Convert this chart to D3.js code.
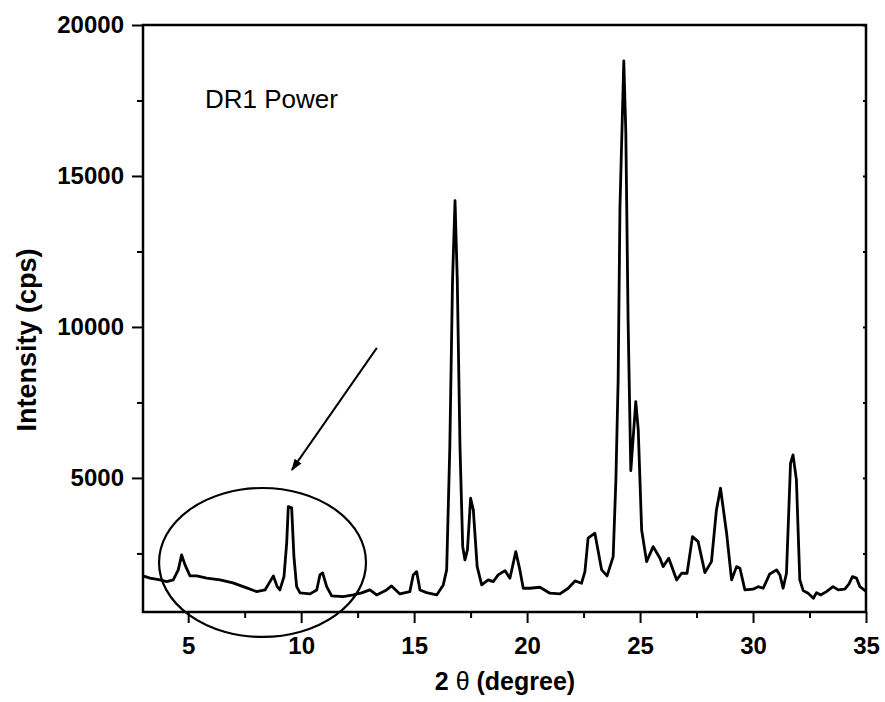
<!DOCTYPE html>
<html>
<head>
<meta charset="utf-8">
<script src="https://cdn.jsdelivr.net/npm/d3@7"></script>
<style>
  body { margin: 0; background: #fff; }
  text { font-family: "Liberation Sans", Arial, sans-serif; fill: #000; }
</style>
</head>
<body>
<div id="chart"></div>
<script>
const width = 885;
const height = 702;

// 2θ (degree) and intensity (cps)
const twoTheta = [3.00, 3.31, 3.75, 4.05, 4.34, 4.56, 4.71, 4.86, 5.08, 5.38, 5.82, 6.41, 6.98, 7.59, 8.03, 8.40, 8.62, 8.77, 8.94, 9.06,
  9.24, 9.36, 9.43, 9.58, 9.68, 9.80, 9.95, 10.39, 10.69, 10.83, 10.95, 11.13, 11.35, 11.86, 12.31, 12.68, 13.04, 13.34, 13.78, 14.00,
  14.37, 14.81, 14.96, 15.11, 15.26, 15.55, 16.00, 16.29, 16.44, 16.58, 16.70, 16.81, 16.91, 17.03, 17.15, 17.25, 17.36, 17.50, 17.62, 17.79,
  17.99, 18.28, 18.50, 18.72, 19.02, 19.24, 19.50, 19.68, 19.83, 20.12, 20.57, 21.01, 21.45, 21.82, 22.12, 22.41, 22.56, 22.70, 23.00, 23.30,
  23.54, 23.81, 23.93, 24.03, 24.11, 24.28, 24.37, 24.47, 24.59, 24.81, 24.92, 25.07, 25.29, 25.58, 25.88, 26.02, 26.27, 26.62, 26.84, 27.08,
  27.32, 27.57, 27.87, 28.16, 28.38, 28.56, 28.83, 29.05, 29.27, 29.42, 29.64, 30.00, 30.23, 30.45, 30.74, 31.04, 31.19, 31.33, 31.48, 31.66,
  31.77, 31.92, 32.07, 32.22, 32.44, 32.67, 32.81, 32.99, 33.25, 33.54, 33.77, 34.06, 34.25, 34.40, 34.58, 34.73, 34.96, 35.00];
const intensity = [1755, 1680, 1622, 1566, 1622, 1954, 2450, 2119, 1755, 1755, 1680, 1622, 1523, 1358, 1235, 1291, 1566, 1755, 1400, 1291,
  1732, 2847, 4050, 4007, 2394, 1400, 1192, 1159, 1291, 1788, 1854, 1400, 1093, 1070, 1126, 1192, 1291, 1126, 1291, 1424,
  1159, 1235, 1788, 1897, 1291, 1202, 1126, 1457, 1954, 6036, 11556, 14182, 11556, 6036, 2725, 2285, 2616, 4328, 3940, 2063,
  1457, 1622, 1566, 1788, 1930, 1680, 2560, 1954, 1347, 1347, 1380, 1182, 1159, 1347, 1589, 1513, 1897, 3003, 3169, 1954,
  1755, 2394, 4934, 8245, 13957, 18808, 16440, 10232, 5242, 7527, 6589, 3278, 2229, 2725, 2341, 2063, 2341, 1622, 1844, 1844,
  3056, 2891, 1864, 2229, 3940, 4659, 3169, 1622, 2063, 2010, 1291, 1315, 1400, 1347, 1821, 1954, 1788, 1347, 1844, 5487,
  5762, 4934, 1622, 1268, 1182, 1017, 1202, 1126, 1235, 1400, 1291, 1315, 1490, 1732, 1680, 1400, 1268, 1240];

const xTicks = [5, 10, 15, 20, 25, 30, 35];
const xMinor = [7.5, 12.5, 17.5, 22.5, 27.5, 32.5];
const yTicks = [5000, 10000, 15000, 20000];
const yMinor = [2500, 7500, 12500, 17500];

// annotation in data units: circled region and arrow
const ellipseCenter = [8.29, 2200];
const ellipseRadius = [4.58, 2467];
const arrowFrom = [13.35, 9305];
const arrowTo = [9.59, 5265];

const margin = { top: 25, right: 19, bottom: 90, left: 143 };

const svg = d3.select("#chart")
  .append("svg")
  .attr("width", width)
  .attr("height", height);

const x = d3.scaleLinear()
  .domain([3, 35])
  .range([margin.left, width - margin.right]);

const y = d3.scaleLinear()
  .domain([560, 20000])
  .range([height - margin.bottom, margin.top]);

const data = twoTheta.map((t, i) => ({ t: t, v: intensity[i] }));

// axes
svg.append("g")
  .attr("transform", `translate(0,${height - margin.bottom})`)
  .call(d3.axisBottom(x).tickValues(xTicks).tickSize(11).tickPadding(14).tickFormat(d3.format("d")));

svg.append("g")
  .attr("transform", `translate(0,${height - margin.bottom})`)
  .call(d3.axisBottom(x).tickValues(xMinor).tickSize(6).tickFormat(""));

svg.append("g")
  .attr("transform", `translate(${margin.left},0)`)
  .call(d3.axisLeft(y).tickValues(yTicks).tickSize(11).tickPadding(8).tickFormat(d3.format("d")));

svg.append("g")
  .attr("transform", `translate(${margin.left},0)`)
  .call(d3.axisLeft(y).tickValues(yMinor).tickSize(6).tickFormat(""));

svg.append("g")
  .attr("transform", `translate(${width - margin.right},0)`)
  .call(d3.axisLeft(y).tickValues(yTicks.concat(yMinor)).tickSize(3).tickFormat(""));

svg.selectAll(".domain").remove();
svg.selectAll(".tick line").attr("stroke", "#000").attr("stroke-width", 2);
svg.selectAll(".tick text")
  .style("font-size", "24px")
  .style("font-weight", "bold")
  .style("font-family", "'Liberation Sans', Arial, sans-serif");

// frame
svg.append("rect")
  .attr("x", margin.left)
  .attr("y", margin.top)
  .attr("width", width - margin.right - margin.left)
  .attr("height", height - margin.bottom - margin.top)
  .attr("fill", "none")
  .attr("stroke", "#000")
  .attr("stroke-width", 2.5);

// pattern
const line = d3.line()
  .x(d => x(d.t))
  .y(d => y(d.v));

svg.append("path")
  .datum(data)
  .attr("d", line)
  .attr("fill", "none")
  .attr("stroke", "#000")
  .attr("stroke-width", 2.8)
  .attr("stroke-linejoin", "round");

// annotation
svg.append("ellipse")
  .attr("cx", x(ellipseCenter[0]))
  .attr("cy", y(ellipseCenter[1]))
  .attr("rx", x(ellipseCenter[0] + ellipseRadius[0]) - x(ellipseCenter[0]))
  .attr("ry", y(ellipseCenter[1]) - y(ellipseCenter[1] + ellipseRadius[1]))
  .attr("fill", "none")
  .attr("stroke", "#000")
  .attr("stroke-width", 2.2);

svg.append("defs").append("marker")
  .attr("id", "head")
  .attr("viewBox", "0 0 10 10")
  .attr("refX", 9)
  .attr("refY", 5)
  .attr("markerWidth", 6)
  .attr("markerHeight", 6)
  .attr("markerUnits", "strokeWidth")
  .attr("orient", "auto")
  .append("path")
  .attr("d", "M0,1.5 L10,5 L0,8.5 Z")
  .attr("fill", "#000");

svg.append("line")
  .attr("x1", x(arrowFrom[0]))
  .attr("y1", y(arrowFrom[1]))
  .attr("x2", x(arrowTo[0]))
  .attr("y2", y(arrowTo[1]))
  .attr("stroke", "#000")
  .attr("stroke-width", 2)
  .attr("marker-end", "url(#head)");

// labels
svg.append("text")
  .attr("x", 205)
  .attr("y", 108)
  .style("font-size", "26px")
  .style("font-weight", "500")
  .text("DR1 Power");

const xt = svg.append("text")
  .attr("x", 505)
  .attr("y", 690)
  .attr("text-anchor", "middle")
  .style("font-size", "25px")
  .style("font-weight", "bold");
xt.append("tspan").text("2 ");
xt.append("tspan").style("font-weight", "normal").text("θ");
xt.append("tspan").text(" (degree)");

svg.append("text")
  .attr("transform", "translate(36,340) rotate(-90)")
  .attr("text-anchor", "middle")
  .style("font-size", "27px")
  .style("font-weight", "bold")
  .text("Intensity (cps)");
</script>
</body>
</html>
